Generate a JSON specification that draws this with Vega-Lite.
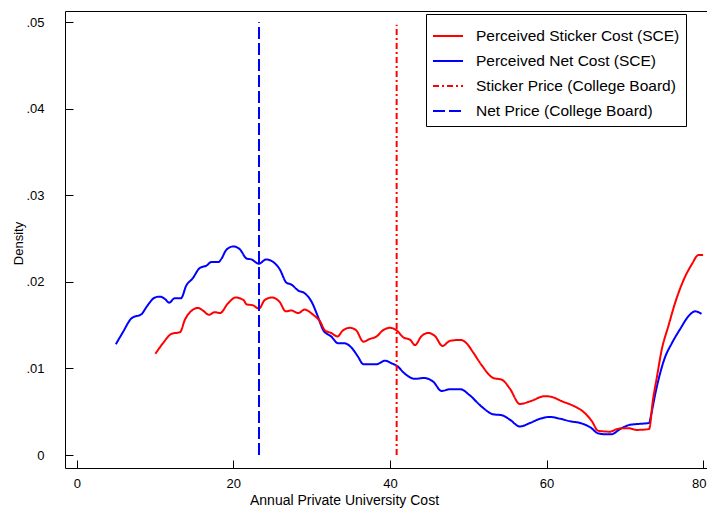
{
  "$schema": "https://vega.github.io/schema/vega-lite/v6.json",
  "width": 642,
  "height": 457,
  "autosize": {"type": "none"},
  "padding": {"left": 65, "top": 11, "right": 0, "bottom": 42},
  "background": "white",
  "config": {
    "font": "Liberation Sans",
    "view": {"stroke": "black", "strokeWidth": 1},
    "axis": {"grid": false, "domain": false, "tickColor": "black", "labelColor": "black", "titleColor": "black", "labelFont": "Liberation Sans", "titleFont": "Liberation Sans", "titleFontWeight": "normal"}
  },
  "layer": [
    {
      "data": {"values": [
        {"series": "Perceived Net Cost (SCE)", "x": 5.0, "y": 0.0128},
        {"series": "Perceived Net Cost (SCE)", "x": 5.9, "y": 0.0142},
        {"series": "Perceived Net Cost (SCE)", "x": 7.0, "y": 0.0158},
        {"series": "Perceived Net Cost (SCE)", "x": 8.3, "y": 0.0163},
        {"series": "Perceived Net Cost (SCE)", "x": 8.9, "y": 0.0171},
        {"series": "Perceived Net Cost (SCE)", "x": 10.0, "y": 0.0182},
        {"series": "Perceived Net Cost (SCE)", "x": 10.6, "y": 0.0183},
        {"series": "Perceived Net Cost (SCE)", "x": 11.3, "y": 0.0180},
        {"series": "Perceived Net Cost (SCE)", "x": 11.8, "y": 0.0176},
        {"series": "Perceived Net Cost (SCE)", "x": 12.5, "y": 0.0181},
        {"series": "Perceived Net Cost (SCE)", "x": 13.3, "y": 0.0181},
        {"series": "Perceived Net Cost (SCE)", "x": 14.0, "y": 0.0196},
        {"series": "Perceived Net Cost (SCE)", "x": 14.8, "y": 0.0204},
        {"series": "Perceived Net Cost (SCE)", "x": 15.7, "y": 0.0216},
        {"series": "Perceived Net Cost (SCE)", "x": 16.6, "y": 0.0219},
        {"series": "Perceived Net Cost (SCE)", "x": 17.2, "y": 0.0223},
        {"series": "Perceived Net Cost (SCE)", "x": 18.1, "y": 0.0223},
        {"series": "Perceived Net Cost (SCE)", "x": 18.5, "y": 0.0227},
        {"series": "Perceived Net Cost (SCE)", "x": 19.1, "y": 0.0237},
        {"series": "Perceived Net Cost (SCE)", "x": 20.0, "y": 0.0241},
        {"series": "Perceived Net Cost (SCE)", "x": 20.8, "y": 0.0238},
        {"series": "Perceived Net Cost (SCE)", "x": 21.7, "y": 0.0227},
        {"series": "Perceived Net Cost (SCE)", "x": 22.3, "y": 0.0226},
        {"series": "Perceived Net Cost (SCE)", "x": 23.26, "y": 0.0221},
        {"series": "Perceived Net Cost (SCE)", "x": 24.2, "y": 0.0226},
        {"series": "Perceived Net Cost (SCE)", "x": 25.1, "y": 0.0223},
        {"series": "Perceived Net Cost (SCE)", "x": 25.9, "y": 0.0215},
        {"series": "Perceived Net Cost (SCE)", "x": 26.8, "y": 0.0199},
        {"series": "Perceived Net Cost (SCE)", "x": 27.4, "y": 0.0197},
        {"series": "Perceived Net Cost (SCE)", "x": 28.3, "y": 0.0190},
        {"series": "Perceived Net Cost (SCE)", "x": 29.1, "y": 0.0187},
        {"series": "Perceived Net Cost (SCE)", "x": 30.0, "y": 0.0177},
        {"series": "Perceived Net Cost (SCE)", "x": 30.8, "y": 0.0160},
        {"series": "Perceived Net Cost (SCE)", "x": 31.5, "y": 0.0144},
        {"series": "Perceived Net Cost (SCE)", "x": 32.5, "y": 0.0137},
        {"series": "Perceived Net Cost (SCE)", "x": 33.4, "y": 0.0129},
        {"series": "Perceived Net Cost (SCE)", "x": 34.2, "y": 0.0129},
        {"series": "Perceived Net Cost (SCE)", "x": 35.1, "y": 0.0124},
        {"series": "Perceived Net Cost (SCE)", "x": 35.9, "y": 0.0114},
        {"series": "Perceived Net Cost (SCE)", "x": 36.6, "y": 0.0105},
        {"series": "Perceived Net Cost (SCE)", "x": 37.4, "y": 0.0105},
        {"series": "Perceived Net Cost (SCE)", "x": 38.3, "y": 0.0105},
        {"series": "Perceived Net Cost (SCE)", "x": 39.4, "y": 0.0109},
        {"series": "Perceived Net Cost (SCE)", "x": 40.2, "y": 0.0106},
        {"series": "Perceived Net Cost (SCE)", "x": 40.9, "y": 0.0103},
        {"series": "Perceived Net Cost (SCE)", "x": 41.9, "y": 0.0094},
        {"series": "Perceived Net Cost (SCE)", "x": 43.2, "y": 0.0088},
        {"series": "Perceived Net Cost (SCE)", "x": 44.3, "y": 0.0089},
        {"series": "Perceived Net Cost (SCE)", "x": 45.5, "y": 0.0085},
        {"series": "Perceived Net Cost (SCE)", "x": 46.6, "y": 0.0074},
        {"series": "Perceived Net Cost (SCE)", "x": 47.7, "y": 0.0076},
        {"series": "Perceived Net Cost (SCE)", "x": 49.0, "y": 0.0076},
        {"series": "Perceived Net Cost (SCE)", "x": 50.2, "y": 0.0069},
        {"series": "Perceived Net Cost (SCE)", "x": 51.7, "y": 0.0056},
        {"series": "Perceived Net Cost (SCE)", "x": 53.2, "y": 0.0047},
        {"series": "Perceived Net Cost (SCE)", "x": 54.3, "y": 0.0046},
        {"series": "Perceived Net Cost (SCE)", "x": 55.3, "y": 0.0041},
        {"series": "Perceived Net Cost (SCE)", "x": 56.6, "y": 0.0033},
        {"series": "Perceived Net Cost (SCE)", "x": 57.9, "y": 0.0037},
        {"series": "Perceived Net Cost (SCE)", "x": 59.2, "y": 0.0042},
        {"series": "Perceived Net Cost (SCE)", "x": 60.4, "y": 0.0044},
        {"series": "Perceived Net Cost (SCE)", "x": 61.7, "y": 0.0042},
        {"series": "Perceived Net Cost (SCE)", "x": 63.0, "y": 0.0039},
        {"series": "Perceived Net Cost (SCE)", "x": 64.3, "y": 0.0037},
        {"series": "Perceived Net Cost (SCE)", "x": 65.6, "y": 0.0032},
        {"series": "Perceived Net Cost (SCE)", "x": 66.6, "y": 0.0025},
        {"series": "Perceived Net Cost (SCE)", "x": 67.5, "y": 0.0024},
        {"series": "Perceived Net Cost (SCE)", "x": 68.3, "y": 0.0024},
        {"series": "Perceived Net Cost (SCE)", "x": 69.4, "y": 0.0030},
        {"series": "Perceived Net Cost (SCE)", "x": 70.7, "y": 0.0035},
        {"series": "Perceived Net Cost (SCE)", "x": 71.9, "y": 0.0036},
        {"series": "Perceived Net Cost (SCE)", "x": 73.1, "y": 0.0037},
        {"series": "Perceived Net Cost (SCE)", "x": 73.4, "y": 0.0048},
        {"series": "Perceived Net Cost (SCE)", "x": 73.9, "y": 0.0071},
        {"series": "Perceived Net Cost (SCE)", "x": 74.5, "y": 0.0094},
        {"series": "Perceived Net Cost (SCE)", "x": 75.1, "y": 0.0112},
        {"series": "Perceived Net Cost (SCE)", "x": 76.0, "y": 0.0129},
        {"series": "Perceived Net Cost (SCE)", "x": 77.1, "y": 0.0146},
        {"series": "Perceived Net Cost (SCE)", "x": 78.1, "y": 0.0160},
        {"series": "Perceived Net Cost (SCE)", "x": 79.0, "y": 0.0166},
        {"series": "Perceived Net Cost (SCE)", "x": 79.8, "y": 0.0163},
        {"series": "Perceived Sticker Cost (SCE)", "x": 10.05, "y": 0.0117},
        {"series": "Perceived Sticker Cost (SCE)", "x": 11.0, "y": 0.0129},
        {"series": "Perceived Sticker Cost (SCE)", "x": 12.1, "y": 0.0140},
        {"series": "Perceived Sticker Cost (SCE)", "x": 13.2, "y": 0.0142},
        {"series": "Perceived Sticker Cost (SCE)", "x": 13.8, "y": 0.0156},
        {"series": "Perceived Sticker Cost (SCE)", "x": 14.7, "y": 0.0167},
        {"series": "Perceived Sticker Cost (SCE)", "x": 15.5, "y": 0.0170},
        {"series": "Perceived Sticker Cost (SCE)", "x": 16.1, "y": 0.0167},
        {"series": "Perceived Sticker Cost (SCE)", "x": 16.9, "y": 0.0162},
        {"series": "Perceived Sticker Cost (SCE)", "x": 17.6, "y": 0.0165},
        {"series": "Perceived Sticker Cost (SCE)", "x": 18.3, "y": 0.0164},
        {"series": "Perceived Sticker Cost (SCE)", "x": 19.3, "y": 0.0175},
        {"series": "Perceived Sticker Cost (SCE)", "x": 20.3, "y": 0.0182},
        {"series": "Perceived Sticker Cost (SCE)", "x": 21.3, "y": 0.0179},
        {"series": "Perceived Sticker Cost (SCE)", "x": 21.7, "y": 0.0174},
        {"series": "Perceived Sticker Cost (SCE)", "x": 22.5, "y": 0.0173},
        {"series": "Perceived Sticker Cost (SCE)", "x": 23.26, "y": 0.0169},
        {"series": "Perceived Sticker Cost (SCE)", "x": 24.0, "y": 0.0179},
        {"series": "Perceived Sticker Cost (SCE)", "x": 24.9, "y": 0.0182},
        {"series": "Perceived Sticker Cost (SCE)", "x": 25.9, "y": 0.0177},
        {"series": "Perceived Sticker Cost (SCE)", "x": 26.7, "y": 0.0166},
        {"series": "Perceived Sticker Cost (SCE)", "x": 27.4, "y": 0.0167},
        {"series": "Perceived Sticker Cost (SCE)", "x": 28.3, "y": 0.0164},
        {"series": "Perceived Sticker Cost (SCE)", "x": 29.1, "y": 0.0168},
        {"series": "Perceived Sticker Cost (SCE)", "x": 30.2, "y": 0.0162},
        {"series": "Perceived Sticker Cost (SCE)", "x": 31.1, "y": 0.0154},
        {"series": "Perceived Sticker Cost (SCE)", "x": 31.7, "y": 0.0144},
        {"series": "Perceived Sticker Cost (SCE)", "x": 32.5, "y": 0.0141},
        {"series": "Perceived Sticker Cost (SCE)", "x": 33.3, "y": 0.0137},
        {"series": "Perceived Sticker Cost (SCE)", "x": 34.0, "y": 0.0144},
        {"series": "Perceived Sticker Cost (SCE)", "x": 34.9, "y": 0.0147},
        {"series": "Perceived Sticker Cost (SCE)", "x": 35.7, "y": 0.0144},
        {"series": "Perceived Sticker Cost (SCE)", "x": 36.6, "y": 0.0131},
        {"series": "Perceived Sticker Cost (SCE)", "x": 37.4, "y": 0.0134},
        {"series": "Perceived Sticker Cost (SCE)", "x": 38.3, "y": 0.0137},
        {"series": "Perceived Sticker Cost (SCE)", "x": 39.1, "y": 0.0144},
        {"series": "Perceived Sticker Cost (SCE)", "x": 40.0, "y": 0.0147},
        {"series": "Perceived Sticker Cost (SCE)", "x": 40.86, "y": 0.0144},
        {"series": "Perceived Sticker Cost (SCE)", "x": 41.7, "y": 0.0136},
        {"series": "Perceived Sticker Cost (SCE)", "x": 42.6, "y": 0.0133},
        {"series": "Perceived Sticker Cost (SCE)", "x": 43.2, "y": 0.0127},
        {"series": "Perceived Sticker Cost (SCE)", "x": 44.0, "y": 0.0137},
        {"series": "Perceived Sticker Cost (SCE)", "x": 44.9, "y": 0.0141},
        {"series": "Perceived Sticker Cost (SCE)", "x": 45.8, "y": 0.0137},
        {"series": "Perceived Sticker Cost (SCE)", "x": 46.7, "y": 0.0126},
        {"series": "Perceived Sticker Cost (SCE)", "x": 47.7, "y": 0.0132},
        {"series": "Perceived Sticker Cost (SCE)", "x": 49.0, "y": 0.0133},
        {"series": "Perceived Sticker Cost (SCE)", "x": 49.8, "y": 0.0129},
        {"series": "Perceived Sticker Cost (SCE)", "x": 50.6, "y": 0.0119},
        {"series": "Perceived Sticker Cost (SCE)", "x": 51.7, "y": 0.0104},
        {"series": "Perceived Sticker Cost (SCE)", "x": 53.2, "y": 0.0089},
        {"series": "Perceived Sticker Cost (SCE)", "x": 54.3, "y": 0.0087},
        {"series": "Perceived Sticker Cost (SCE)", "x": 55.3, "y": 0.0077},
        {"series": "Perceived Sticker Cost (SCE)", "x": 56.6, "y": 0.0059},
        {"series": "Perceived Sticker Cost (SCE)", "x": 57.9, "y": 0.0062},
        {"series": "Perceived Sticker Cost (SCE)", "x": 59.8, "y": 0.0068},
        {"series": "Perceived Sticker Cost (SCE)", "x": 60.7, "y": 0.0067},
        {"series": "Perceived Sticker Cost (SCE)", "x": 62.0, "y": 0.0062},
        {"series": "Perceived Sticker Cost (SCE)", "x": 63.4, "y": 0.0057},
        {"series": "Perceived Sticker Cost (SCE)", "x": 64.7, "y": 0.0050},
        {"series": "Perceived Sticker Cost (SCE)", "x": 65.8, "y": 0.0039},
        {"series": "Perceived Sticker Cost (SCE)", "x": 66.6, "y": 0.0028},
        {"series": "Perceived Sticker Cost (SCE)", "x": 68.1, "y": 0.0027},
        {"series": "Perceived Sticker Cost (SCE)", "x": 69.0, "y": 0.0030},
        {"series": "Perceived Sticker Cost (SCE)", "x": 70.0, "y": 0.0031},
        {"series": "Perceived Sticker Cost (SCE)", "x": 70.5, "y": 0.0031},
        {"series": "Perceived Sticker Cost (SCE)", "x": 71.5, "y": 0.0029},
        {"series": "Perceived Sticker Cost (SCE)", "x": 73.1, "y": 0.0030},
        {"series": "Perceived Sticker Cost (SCE)", "x": 73.6, "y": 0.0064},
        {"series": "Perceived Sticker Cost (SCE)", "x": 74.1, "y": 0.0090},
        {"series": "Perceived Sticker Cost (SCE)", "x": 74.7, "y": 0.0121},
        {"series": "Perceived Sticker Cost (SCE)", "x": 75.6, "y": 0.0150},
        {"series": "Perceived Sticker Cost (SCE)", "x": 76.4, "y": 0.0175},
        {"series": "Perceived Sticker Cost (SCE)", "x": 77.5, "y": 0.0202},
        {"series": "Perceived Sticker Cost (SCE)", "x": 78.6, "y": 0.0221},
        {"series": "Perceived Sticker Cost (SCE)", "x": 79.4, "y": 0.0231},
        {"series": "Perceived Sticker Cost (SCE)", "x": 80.0, "y": 0.0231}
      ]},
      "mark": {"type": "line", "strokeWidth": 2, "interpolate": "monotone"},
      "encoding": {
        "x": {"field": "x", "type": "quantitative", "scale": {"domain": [-1.5, 80.5], "nice": false, "zero": false},
          "axis": {"values": [0, 20, 40, 60, 80], "tickSize": -8, "labelPadding": 17, "labelFontSize": 13, "labelFlush": 5, "labelFlushOffset": 3, "title": "Annual Private University Cost", "titleFontSize": 14, "titleX": 279, "titleY": 32, "titleBaseline": "middle", "titleAnchor": null, "titleAlign": "center"}},
        "y": {"field": "y", "type": "quantitative", "scale": {"domain": [-0.0015, 0.0513], "nice": false, "zero": false},
          "axis": {"values": [0, 0.01, 0.02, 0.03, 0.04, 0.05], "tickSize": -8, "labelPadding": 29, "labelFontSize": 13, "labelExpr": "datum.value == 0 ? '0' : replace(format(datum.value, '.2f'), '0.', '.')", "title": "Density", "titleFontSize": 13, "titleX": -47, "titleY": 232, "titleBaseline": "middle", "titleAlign": "center", "titleAngle": -90}},
        "color": {"field": "series", "type": "nominal",
          "scale": {"domain": ["Perceived Sticker Cost (SCE)", "Perceived Net Cost (SCE)", "Sticker Price (College Board)", "Net Price (College Board)"], "range": ["#ff0000", "#0000ff", "#ff0000", "#0000ff"]},
          "legend": {"orient": "none", "legendX": 361, "legendY": 3, "title": null, "symbolType": "stroke", "symbolSize": 900, "symbolStrokeWidth": 2, "labelFontSize": 15.5, "labelFont": "Liberation Sans", "labelColor": "black", "labelOffset": 12, "padding": 6, "rowPadding": 0, "strokeColor": "black", "fillColor": "white", "labelLimit": 400, "labelExpr": "datum.label + '\u00a0\u00a0\u00a0'"}},
        "strokeDash": {"field": "series", "type": "nominal",
          "scale": {"domain": ["Perceived Sticker Cost (SCE)", "Perceived Net Cost (SCE)", "Sticker Price (College Board)", "Net Price (College Board)"], "range": [[1, 0], [1, 0], [6, 3, 2, 3], [12, 4]]},
          "legend": {"orient": "none", "legendX": 361, "legendY": 3, "title": null, "symbolType": "stroke", "symbolSize": 900, "symbolStrokeWidth": 2, "labelFontSize": 15.5, "labelFont": "Liberation Sans", "labelColor": "black", "labelOffset": 12, "padding": 6, "rowPadding": 0, "strokeColor": "black", "fillColor": "white", "labelLimit": 400, "labelExpr": "datum.label + '\u00a0\u00a0\u00a0'"}}
      }
    },
    {
      "data": {"values": [
        {"series": "Sticker Price (College Board)", "x": 40.86, "y": 0, "y2": 0.0497},
        {"series": "Net Price (College Board)", "x": 23.28, "y": 0, "y2": 0.05}
      ]},
      "mark": {"type": "rule", "strokeWidth": 2},
      "encoding": {
        "x": {"field": "x", "type": "quantitative"},
        "y": {"field": "y", "type": "quantitative"},
        "y2": {"field": "y2"},
        "color": {"field": "series", "type": "nominal"},
        "strokeDash": {"field": "series", "type": "nominal"}
      }
    }
  ]
}
